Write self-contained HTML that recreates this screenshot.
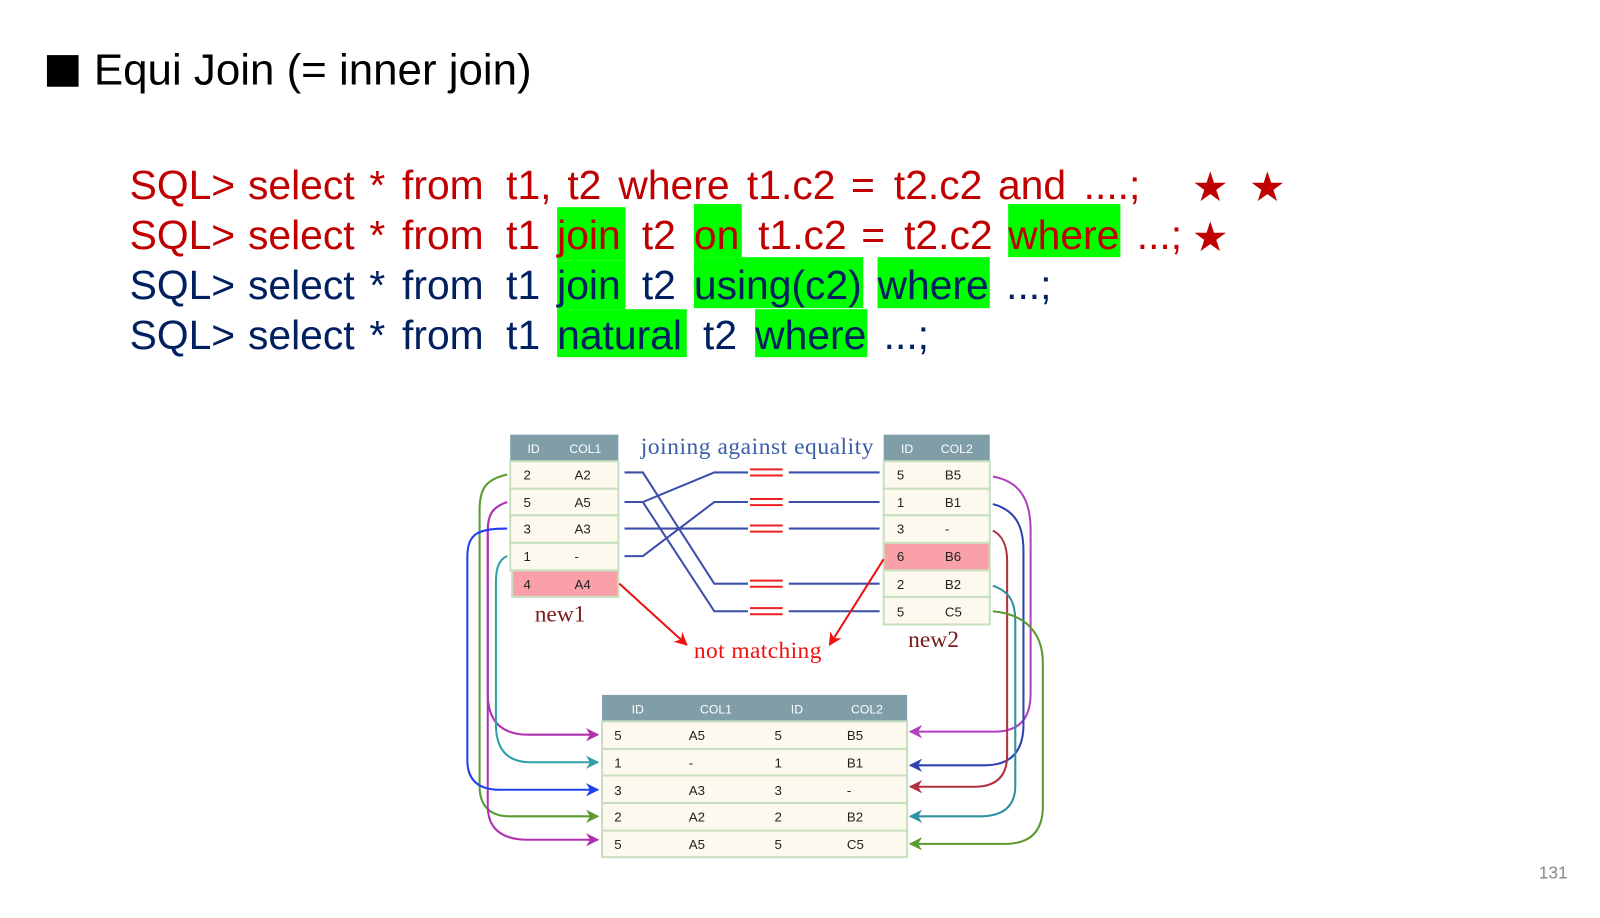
<!DOCTYPE html>
<html><head><meta charset="utf-8"><style>
body{margin:0;width:1600px;height:900px;background:#fff;position:relative;overflow:hidden;font-family:"Liberation Sans",sans-serif}
#w{position:absolute;left:0;top:0;width:1600px;height:900px;transform:scale(1.0204);transform-origin:0 0}
.a{position:absolute;white-space:nowrap}
.l{position:absolute;font-size:40px;line-height:40px;white-space:nowrap}
.r{color:#c00000}.b{color:#002060}
.hl{position:absolute;background:#00ff00}
</style></head><body><div id="w">
<div class="a" style="left:46px;top:54px;width:31px;height:31px;background:#000"></div>
<div class="a" style="left:92px;top:45px;font-size:43px;color:#000">Equi Join (= inner join)</div>

<div class="hl" style="left:546px;top:203px;width:67px;height:52px"></div>
<div class="hl" style="left:680px;top:200px;width:47px;height:52px"></div>
<div class="hl" style="left:988px;top:200px;width:110px;height:52px"></div>
<div class="hl" style="left:546px;top:255px;width:67px;height:48px"></div>
<div class="hl" style="left:680px;top:252px;width:166px;height:50px"></div>
<div class="hl" style="left:860px;top:252px;width:110px;height:50px"></div>
<div class="hl" style="left:546px;top:303px;width:127px;height:47px"></div>
<div class="hl" style="left:740px;top:303px;width:110px;height:47px"></div>

<div class="r">
<span class="l" style="left:127px;top:162px">SQL&gt;</span><span class="l" style="left:243px;top:162px">select</span><span class="l" style="left:362px;top:162px">*</span><span class="l" style="left:394px;top:162px">from</span><span class="l" style="left:496px;top:162px">t1,</span><span class="l" style="left:556px;top:162px">t2</span><span class="l" style="left:606px;top:162px">where</span><span class="l" style="left:732px;top:162px">t1.c2</span><span class="l" style="left:834px;top:162px">=</span><span class="l" style="left:876px;top:162px">t2.c2</span><span class="l" style="left:978px;top:162px">and</span><span class="l" style="left:1062px;top:162px">....;</span>
<span class="l" style="left:1168px;top:164px">★</span><span class="l" style="left:1224px;top:164px">★</span>
<span class="l" style="left:127px;top:211px">SQL&gt;</span><span class="l" style="left:243px;top:211px">select</span><span class="l" style="left:362px;top:211px">*</span><span class="l" style="left:394px;top:211px">from</span><span class="l" style="left:496px;top:211px">t1</span><span class="l" style="left:546px;top:211px">join</span><span class="l" style="left:629px;top:211px">t2</span><span class="l" style="left:680px;top:211px">on</span><span class="l" style="left:743px;top:211px">t1.c2</span><span class="l" style="left:844px;top:211px">=</span><span class="l" style="left:886px;top:211px">t2.c2</span><span class="l" style="left:988px;top:211px">where</span><span class="l" style="left:1114px;top:211px">...;</span>
<span class="l" style="left:1168px;top:213px">★</span>
</div>
<div class="b">
<span class="l" style="left:127px;top:260px">SQL&gt;</span><span class="l" style="left:243px;top:260px">select</span><span class="l" style="left:362px;top:260px">*</span><span class="l" style="left:394px;top:260px">from</span><span class="l" style="left:496px;top:260px">t1</span><span class="l" style="left:546px;top:260px">join</span><span class="l" style="left:629px;top:260px">t2</span><span class="l" style="left:680px;top:260px">using(c2)</span><span class="l" style="left:860px;top:260px">where</span><span class="l" style="left:986px;top:260px">...;</span>
<span class="l" style="left:127px;top:309px">SQL&gt;</span><span class="l" style="left:243px;top:309px">select</span><span class="l" style="left:362px;top:309px">*</span><span class="l" style="left:394px;top:309px">from</span><span class="l" style="left:496px;top:309px">t1</span><span class="l" style="left:546px;top:309px">natural</span><span class="l" style="left:689px;top:309px">t2</span><span class="l" style="left:740px;top:309px">where</span><span class="l" style="left:866px;top:309px">...;</span>
</div>

<svg class="a" style="left:0;top:0" width="1600" height="900" viewBox="0 0 1600 900">
<defs>
<marker id="m" viewBox="0 0 10 10" refX="9" refY="5" markerWidth="13" markerHeight="13" orient="auto" markerUnits="userSpaceOnUse"><path d="M0,0 L10,5 L0,10 L3,5Z" fill="context-stroke"/></marker>
</defs>
<g font-family="Liberation Sans,sans-serif" font-size="13">
<rect x="500" y="426" width="106" height="26" fill="#7f9ea8"/>
<text x="517" y="444" fill="#fff" font-size="12">ID</text><text x="558" y="444" fill="#fff" font-size="12">COL1</text>
<g stroke="#c8e0c0" stroke-width="2">
<rect x="500" y="452" width="106" height="27" fill="#fdf9ee"/>
<rect x="500" y="479" width="106" height="26" fill="#fdf9ee"/>
<rect x="500" y="505" width="106" height="27" fill="#fdf9ee"/>
<rect x="500" y="532" width="106" height="27" fill="#fdf9ee"/>
<rect x="502" y="559" width="104" height="26" fill="#f9a0a8"/>
</g>
<g fill="#222"><text x="513" y="470">2</text><text x="563" y="470">A2</text>
<text x="513" y="497">5</text><text x="563" y="497">A5</text>
<text x="513" y="523">3</text><text x="563" y="523">A3</text>
<text x="513" y="550">1</text><text x="563" y="550">-</text>
<text x="513" y="577">4</text><text x="563" y="577">A4</text></g>
<rect x="866" y="426" width="104" height="26" fill="#7f9ea8"/>
<text x="883" y="444" fill="#fff" font-size="12">ID</text><text x="922" y="444" fill="#fff" font-size="12">COL2</text>
<g stroke="#c8e0c0" stroke-width="2">
<rect x="866" y="452" width="104" height="27" fill="#fdf9ee"/>
<rect x="866" y="479" width="104" height="26" fill="#fdf9ee"/>
<rect x="866" y="505" width="104" height="27" fill="#fdf9ee"/>
<rect x="866" y="532" width="104" height="27" fill="#f9a0a8"/>
<rect x="866" y="559" width="104" height="26" fill="#fdf9ee"/>
<rect x="866" y="585" width="104" height="27" fill="#fdf9ee"/>
</g>
<g fill="#222"><text x="879" y="470">5</text><text x="926" y="470">B5</text>
<text x="879" y="497">1</text><text x="926" y="497">B1</text>
<text x="879" y="523">3</text><text x="926" y="523">-</text>
<text x="879" y="550">6</text><text x="926" y="550">B6</text>
<text x="879" y="577">2</text><text x="926" y="577">B2</text>
<text x="879" y="604">5</text><text x="926" y="604">C5</text></g>
<rect x="590" y="681" width="299" height="26" fill="#7f9ea8"/>
<g fill="#fff" font-size="12"><text x="619" y="699">ID</text><text x="686" y="699">COL1</text><text x="775" y="699">ID</text><text x="834" y="699">COL2</text></g>
<g stroke="#c8e0c0" stroke-width="2" fill="#fdf9ee">
<rect x="590" y="707" width="299" height="27"/><rect x="590" y="734" width="299" height="26"/><rect x="590" y="760" width="299" height="27"/><rect x="590" y="787" width="299" height="27"/><rect x="590" y="814" width="299" height="26"/>
</g>
<g fill="#222"><text x="602" y="725">5</text><text x="675" y="725">A5</text><text x="759" y="725">5</text><text x="830" y="725">B5</text>
<text x="602" y="752">1</text><text x="675" y="752">-</text><text x="759" y="752">1</text><text x="830" y="752">B1</text>
<text x="602" y="779">3</text><text x="675" y="779">A3</text><text x="759" y="779">3</text><text x="830" y="779">-</text>
<text x="602" y="805">2</text><text x="675" y="805">A2</text><text x="759" y="805">2</text><text x="830" y="805">B2</text>
<text x="602" y="832">5</text><text x="675" y="832">A5</text><text x="759" y="832">5</text><text x="830" y="832">C5</text></g>
</g>
<g font-family="Liberation Serif,serif">
<text x="628" y="445" fill="#3a5da8" font-size="23" textLength="228">joining against equality</text>
<text x="524" y="609" fill="#7a1a1a" font-size="23">new1</text>
<text x="890" y="634" fill="#7a1a1a" font-size="23">new2</text>
<text x="680" y="645" fill="#f01010" font-size="23" textLength="125">not matching</text>
</g>
<g stroke="#3d4fa8" stroke-width="2" fill="none">
<path d="M612 463H630L700 572H733"/><path d="M612 492H630L700 599H733"/><path d="M612 492H630L700 463H733"/>
<path d="M612 518H733"/><path d="M612 545H630L700 492H733"/>
<path d="M773 463H862M773 492H862M773 518H862M773 572H862M773 599H862"/>
</g>
<g stroke="#ee2020" stroke-width="2">
<path d="M735 460H767M735 466H767M735 489H767M735 495H767M735 515H767M735 521H767M735 569H767M735 575H767M735 596H767M735 602H767"/>
</g>
<g stroke="#f01010" stroke-width="2" fill="none" marker-end="url(#m)">
<path d="M607 572L673 632"/><path d="M866 548L813 632"/>
</g>
<g stroke-width="2" fill="none" marker-end="url(#m)">
<path stroke="#5a9a30" d="M497 465C475 470 470 480 470 500V770Q470 800 500 800H586"/>
<path stroke="#b030b0" d="M497 492C482 497 478 505 478 520V680Q478 720 518 720H586"/>
<path stroke="#b030b0" d="M497 492C482 497 478 505 478 520V790Q478 823 518 823H586"/>
<path stroke="#2040f0" d="M497 518C470 518 458 522 458 545V745Q458 774 490 774H586"/>
<path stroke="#30a0a8" d="M497 545C490 548 486 555 486 570V710Q486 747 520 747H586"/>
</g>
<g stroke-width="2" fill="none" marker-end="url(#m)">
<path stroke="#b040c0" d="M973 467C1000 472 1010 490 1010 520V680Q1010 717 975 717H892"/>
<path stroke="#3040b0" d="M973 494C995 500 1003 515 1003 540V710Q1003 750 965 750H892"/>
<path stroke="#b03040" d="M973 520C983 525 987 535 987 550V740Q987 771 955 771H892"/>
<path stroke="#3090a0" d="M973 574C990 580 995 590 995 610V770Q995 800 960 800H892"/>
<path stroke="#5a9a30" d="M973 599C1005 602 1022 620 1022 650V790Q1022 827 985 827H892"/>
</g>
</svg>
<div class="a" style="left:1508px;top:846px;font-size:17px;color:#888">131</div>
</div></body></html>
